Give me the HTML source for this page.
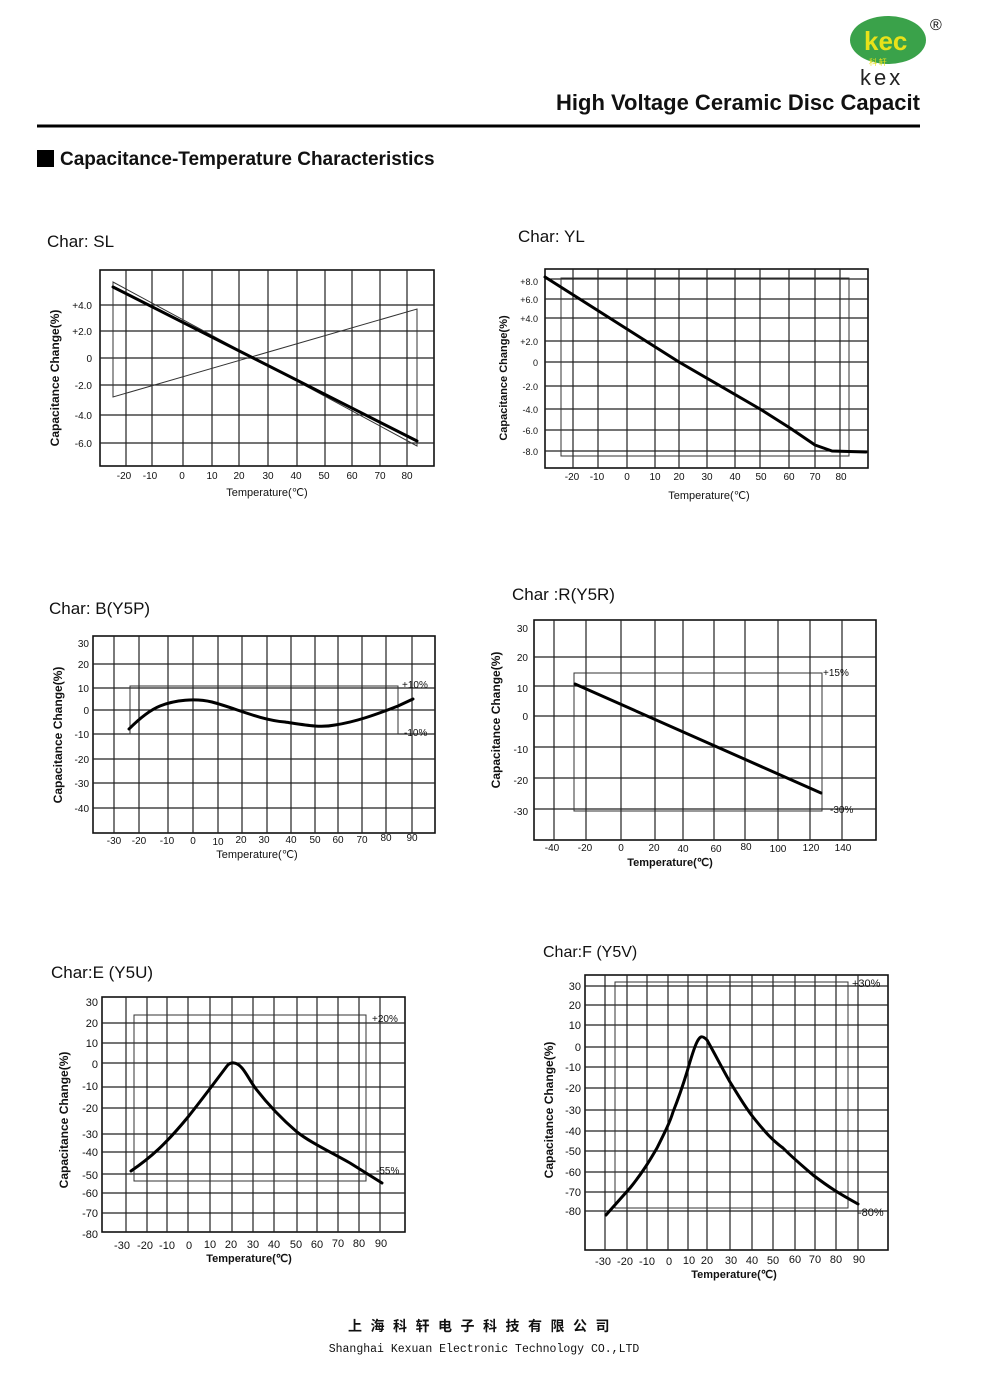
<!DOCTYPE html>
<html><head><meta charset="utf-8"><style>
html,body{margin:0;padding:0;background:#fff}
svg{display:block}
text{font-family:"Liberation Sans",sans-serif;fill:#111}
.t{font-size:10px}
.ax{font-size:11px}
.yl{font-size:12px;font-weight:bold}
.ti{font-size:17px}
.g{stroke:#222;stroke-width:1.2;fill:none}
.f{stroke:#111;stroke-width:1.6;fill:none}
.b{stroke:#333;stroke-width:1;fill:none}
.c{stroke:#000;stroke-width:3;fill:none;stroke-linecap:round;stroke-linejoin:round}
</style></head><body>
<svg width="982" height="1387" viewBox="0 0 982 1387" xmlns="http://www.w3.org/2000/svg">
<!-- header -->
<ellipse cx="888" cy="40" rx="38" ry="24" fill="#3aa24a"/>
<text x="864" y="50" style="font-size:26px;font-weight:bold;fill:#e8e21a">kec</text>
<text x="869" y="65" style="font-size:8px;fill:#e8e21a;font-family:'Noto Sans CJK SC',sans-serif">科 轩</text>
<text x="860" y="85" style="font-size:22px;fill:#222;letter-spacing:3px">kex</text>
<text x="930" y="30" style="font-size:16px">®</text>
<svg x="0" y="0" width="920" height="130"><text x="556" y="110" style="font-size:22px;font-weight:bold">High Voltage Ceramic Disc Capacitors</text></svg>
<line x1="37" y1="126" x2="920" y2="126" stroke="#000" stroke-width="3"/>
<rect x="37" y="150" width="17" height="17" fill="#000"/>
<text x="60" y="165" style="font-size:19px;font-weight:bold">Capacitance-Temperature Characteristics</text>

<!-- SL -->
<text x="47" y="247" class="ti">Char:  SL</text>
<rect x="100" y="270" width="334" height="196" class="f"/>
<g class="g">
<path d="M126 270V466M152 270V466M183 270V466M212 270V466M239 270V466M268 270V466M297 270V466M325 270V466M352 270V466M380 270V466M407 270V466"/>
<path d="M100 305H434M100 331H434M100 358H434M100 385H434M100 415H434M100 443H434"/>
</g>
<path d="M113 282V397L417 309V446Z" class="b"/>
<path d="M113 287L417 441" class="c"/>
<g class="t" text-anchor="end">
<text x="92" y="309">+4.0</text><text x="92" y="335">+2.0</text><text x="92" y="362">0</text><text x="92" y="389">-2.0</text><text x="92" y="419">-4.0</text><text x="92" y="447">-6.0</text></g>
<g class="t" text-anchor="middle">
<text x="124" y="479">-20</text><text x="150" y="479">-10</text><text x="182" y="479">0</text><text x="212" y="479">10</text><text x="239" y="479">20</text><text x="268" y="479">30</text><text x="296" y="479">40</text><text x="324" y="479">50</text><text x="352" y="479">60</text><text x="380" y="479">70</text><text x="407" y="479">80</text></g>
<text x="267" y="496" class="ax" text-anchor="middle">Temperature(℃)</text>
<text transform="translate(59,378) rotate(-90)" class="yl" text-anchor="middle">Capacitance Change(%)</text>

<!-- YL -->
<text x="518" y="242" class="ti">Char:  YL</text>
<rect x="545" y="269" width="323" height="199" class="f"/>
<g class="g">
<path d="M573 269V468M598 269V468M627 269V468M655 269V468M679 269V468M707 269V468M735 269V468M760 269V468M789 269V468M815 269V468M840 269V468"/>
<path d="M545 279H868M545 299H868M545 318H868M545 341H868M545 362H868M545 386H868M545 409H868M545 430H868M545 451H868"/>
</g>
<rect x="561" y="278" width="288" height="178" class="b"/>
<path d="M545 277L679 362L760 409L790 428L815 445L832 451L866 452" class="c"/>
<g class="t" text-anchor="end" style="font-size:9px">
<text x="538" y="285">+8.0</text><text x="538" y="303">+6.0</text><text x="538" y="322">+4.0</text><text x="538" y="345">+2.0</text><text x="538" y="366">0</text><text x="538" y="390">-2.0</text><text x="538" y="413">-4.0</text><text x="538" y="434">-6.0</text><text x="538" y="455">-8.0</text></g>
<g class="t" text-anchor="middle">
<text x="572" y="480">-20</text><text x="597" y="480">-10</text><text x="627" y="480">0</text><text x="655" y="480">10</text><text x="679" y="480">20</text><text x="707" y="480">30</text><text x="735" y="480">40</text><text x="761" y="480">50</text><text x="789" y="480">60</text><text x="815" y="480">70</text><text x="841" y="480">80</text></g>
<text x="709" y="499" class="ax" text-anchor="middle">Temperature(℃)</text>
<text transform="translate(507,378) rotate(-90)" class="yl" text-anchor="middle" style="font-size:11px">Capacitance Change(%)</text>

<!-- B -->
<text x="49" y="614" class="ti">Char:  B(Y5P)</text>
<rect x="93" y="636" width="342" height="197" class="f"/>
<g class="g">
<path d="M114 636V833M139 636V833M168 636V833M193 636V833M218 636V833M242 636V833M267 636V833M291 636V833M315 636V833M338 636V833M362 636V833M386 636V833M412 636V833"/>
<path d="M93 664H435M93 688H435M93 710H435M93 734H435M93 759H435M93 783H435M93 808H435"/>
</g>
<rect x="130" y="686" width="268" height="48" class="b"/>
<path d="M129 729C140 718 150 710 160 706C175 700 195 698 212 702C235 708 260 720 285 722C305 725 320 728 335 725C355 722 375 715 398 706L413 699" class="c"/>
<text x="402" y="688" class="t">+10%</text><text x="404" y="736" class="t">-10%</text>
<g class="t" text-anchor="end">
<text x="89" y="647">30</text><text x="89" y="668">20</text><text x="89" y="692">10</text><text x="89" y="714">0</text><text x="89" y="738">-10</text><text x="89" y="763">-20</text><text x="89" y="787">-30</text><text x="89" y="812">-40</text></g>
<g class="t" text-anchor="middle">
<text x="114" y="844">-30</text><text x="139" y="844">-20</text><text x="167" y="844">-10</text><text x="193" y="844">0</text><text x="218" y="845">10</text><text x="241" y="843">20</text><text x="264" y="843">30</text><text x="291" y="843">40</text><text x="315" y="843">50</text><text x="338" y="843">60</text><text x="362" y="843">70</text><text x="386" y="841">80</text><text x="412" y="841">90</text></g>
<text x="257" y="858" class="ax" text-anchor="middle">Temperature(℃)</text>
<text transform="translate(62,735) rotate(-90)" class="yl" text-anchor="middle">Capacitance Change(%)</text>

<!-- R -->
<text x="512" y="600" class="ti">Char :R(Y5R)</text>
<rect x="534" y="620" width="342" height="220" class="f"/>
<g class="g">
<path d="M554 620V840M586 620V840M621 620V840M655 620V840M683 620V840M714 620V840M745 620V840M778 620V840M810 620V840M842 620V840"/>
<path d="M534 657H876M534 686H876M534 716H876M534 747H876M534 778H876M534 809H876"/>
</g>
<rect x="574" y="673" width="248" height="138" class="b"/>
<path d="M575 684L821 793" class="c"/>
<text x="823" y="676" class="t">+15%</text><text x="830" y="813" class="t">-30%</text>
<g class="t" text-anchor="end">
<text x="528" y="632">30</text><text x="528" y="661">20</text><text x="528" y="692">10</text><text x="528" y="720">0</text><text x="528" y="753">-10</text><text x="528" y="784">-20</text><text x="528" y="815">-30</text></g>
<g class="t" text-anchor="middle">
<text x="552" y="851">-40</text><text x="585" y="851">-20</text><text x="621" y="851">0</text><text x="654" y="851">20</text><text x="683" y="852">40</text><text x="716" y="852">60</text><text x="746" y="850">80</text><text x="778" y="852">100</text><text x="811" y="851">120</text><text x="843" y="851">140</text></g>
<text x="670" y="866" class="ax" text-anchor="middle" style="font-weight:bold">Temperature(℃)</text>
<text transform="translate(500,720) rotate(-90)" class="yl" text-anchor="middle">Capacitance Change(%)</text>

<!-- E -->
<text x="51" y="978" class="ti">Char:E (Y5U)</text>
<rect x="102" y="997" width="303" height="235" class="f"/>
<g class="g">
<path d="M126 997V1232M147 997V1232M167 997V1232M188 997V1232M210 997V1232M232 997V1232M253 997V1232M274 997V1232M297 997V1232M317 997V1232M338 997V1232M359 997V1232M380 997V1232"/>
<path d="M102 1023H405M102 1043H405M102 1063H405M102 1087H405M102 1108H405M102 1134H405M102 1152H405M102 1174H405M102 1193H405M102 1213H405"/>
</g>
<rect x="134" y="1015" width="232" height="166" class="b"/>
<path d="M131 1171C150 1158 165 1145 188 1117C200 1102 215 1082 227 1066C230 1062 236 1061 242 1068C247 1074 250 1081 256 1089C270 1107 283 1120 297 1132C310 1142 323 1148 350 1163L382 1183" class="c"/>
<text x="372" y="1022" class="t">+20%</text><text x="376" y="1174" class="t">-55%</text>
<g class="t" text-anchor="end" style="font-size:11px">
<text x="98" y="1006">30</text><text x="98" y="1027">20</text><text x="98" y="1047">10</text><text x="98" y="1068">0</text><text x="98" y="1090">-10</text><text x="98" y="1112">-20</text><text x="98" y="1138">-30</text><text x="98" y="1156">-40</text><text x="98" y="1179">-50</text><text x="98" y="1197">-60</text><text x="98" y="1217">-70</text><text x="98" y="1238">-80</text></g>
<g class="t" text-anchor="middle" style="font-size:11px">
<text x="122" y="1249">-30</text><text x="145" y="1249">-20</text><text x="167" y="1249">-10</text><text x="189" y="1249">0</text><text x="210" y="1248">10</text><text x="231" y="1248">20</text><text x="253" y="1248">30</text><text x="274" y="1248">40</text><text x="296" y="1248">50</text><text x="317" y="1248">60</text><text x="338" y="1247">70</text><text x="359" y="1247">80</text><text x="381" y="1247">90</text></g>
<text x="249" y="1262" class="ax" text-anchor="middle" style="font-weight:bold">Temperature(℃)</text>
<text transform="translate(68,1120) rotate(-90)" class="yl" text-anchor="middle">Capacitance Change(%)</text>

<!-- F -->
<text x="543" y="957" class="ti" style="font-size:16px">Char:F  (Y5V)</text>
<rect x="585" y="975" width="303" height="275" class="f"/>
<g class="g">
<path d="M605 975V1250M627 975V1250M647 975V1250M668 975V1250M688 975V1250M707 975V1250M730 975V1250M752 975V1250M773 975V1250M795 975V1250M815 975V1250M836 975V1250M858 975V1250"/>
<path d="M585 986H888M585 1005H888M585 1025H888M585 1047H888M585 1067H888M585 1088H888M585 1110H888M585 1131H888M585 1151H888M585 1172H888M585 1192H888M585 1211H888"/>
</g>
<rect x="615" y="982" width="233" height="226" class="b"/>
<path d="M606 1215C615 1205 622 1197 630 1188C643 1172 650 1160 657 1148C665 1132 670 1122 673 1112C679 1097 683 1085 687 1072C691 1058 694 1048 697 1042C700 1036 702 1035 707 1040C716 1056 722 1068 730 1082C740 1098 745 1107 753 1117C765 1132 772 1140 783 1148C795 1160 805 1168 813 1175C830 1188 840 1194 858 1204" class="c"/>
<text x="852" y="987" class="t" style="font-size:11px">+30%</text><text x="858" y="1216" class="t" style="font-size:11px">-80%</text>
<g class="t" text-anchor="end" style="font-size:11px">
<text x="581" y="990">30</text><text x="581" y="1009">20</text><text x="581" y="1029">10</text><text x="581" y="1051">0</text><text x="581" y="1071">-10</text><text x="581" y="1092">-20</text><text x="581" y="1114">-30</text><text x="581" y="1135">-40</text><text x="581" y="1155">-50</text><text x="581" y="1176">-60</text><text x="581" y="1196">-70</text><text x="581" y="1215">-80</text></g>
<g class="t" text-anchor="middle" style="font-size:11px">
<text x="603" y="1265">-30</text><text x="625" y="1265">-20</text><text x="647" y="1265">-10</text><text x="669" y="1265">0</text><text x="689" y="1264">10</text><text x="707" y="1264">20</text><text x="731" y="1264">30</text><text x="752" y="1264">40</text><text x="773" y="1264">50</text><text x="795" y="1263">60</text><text x="815" y="1263">70</text><text x="836" y="1263">80</text><text x="859" y="1263">90</text></g>
<text x="734" y="1278" class="ax" text-anchor="middle" style="font-weight:bold">Temperature(℃)</text>
<text transform="translate(553,1110) rotate(-90)" class="yl" text-anchor="middle">Capacitance Change(%)</text>

<!-- footer -->
<text x="483" y="1331" text-anchor="middle" style="font-family:'Noto Sans CJK SC',sans-serif;font-size:14px;letter-spacing:8.5px;font-weight:bold">上海科轩电子科技有限公司</text>
<text x="484" y="1352" text-anchor="middle" style="font-family:'Liberation Mono',monospace;font-size:11.5px">Shanghai Kexuan Electronic Technology CO.,LTD</text>
</svg>
</body></html>
